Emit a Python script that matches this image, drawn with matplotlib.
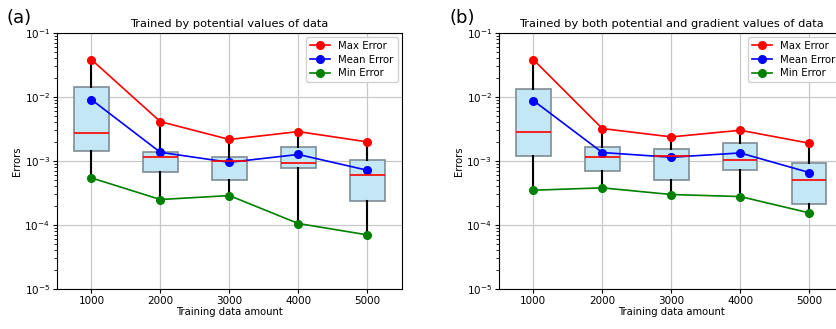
import numpy as np
import matplotlib
matplotlib.use('Agg')
import matplotlib.pyplot as plt

amounts = [1000, 2000, 3000, 4000, 5000]

# (a) potential values only
max_a = [0.0383, 0.0041, 0.00216, 0.00287, 0.00198]
mean_a = [0.00908, 0.00136, 0.00095, 0.00126, 0.000714]
min_a = [0.000542, 0.000249, 0.000287, 0.000105, 0.0000698]
q1_a = [0.00143, 0.000673, 0.00051, 0.000778, 0.000234]
q3_a = [0.01416, 0.00140, 0.00114, 0.00164, 0.00102]
med_a = [0.00277, 0.00113, 0.00101, 0.00093, 0.000597]

# (b) potential + gradient values
max_b = [0.0383, 0.0032, 0.00237, 0.00301, 0.00189]
mean_b = [0.00877, 0.00135, 0.00114, 0.00133, 0.000658]
min_b = [0.000348, 0.000379, 0.000298, 0.000277, 0.000154]
q1_b = [0.00121, 0.000698, 0.000499, 0.000723, 0.00021]
q3_b = [0.0132, 0.00162, 0.00154, 0.00191, 0.00093]
med_b = [0.00287, 0.00115, 0.00118, 0.00102, 0.000505]

panels = [
    ('(a)', 'Trained by potential values of data', max_a, mean_a, min_a, q1_a, q3_a, med_a),
    ('(b)', 'Trained by both potential and gradient values of data', max_b, mean_b, min_b, q1_b, q3_b, med_b),
]

fig = plt.figure(figsize=(8.37, 3.29), dpi=100)
lefts = [0.068, 0.596]
tag_x = [0.008, 0.537]

for k, (tag, title, mx, mn, lo, q1, q3, med) in enumerate(panels):
    ax = fig.add_axes([lefts[k], 0.122, 0.412, 0.778])
    stats = []
    for i in range(len(amounts)):
        stats.append(dict(med=med[i], q1=q1[i], q3=q3[i], whislo=lo[i], whishi=mx[i], fliers=[]))
    ax.bxp(stats, positions=amounts, widths=500, patch_artist=True, showcaps=False,
           boxprops=dict(facecolor='#c3e7f5', edgecolor='#7f8c95', linewidth=1.2),
           whiskerprops=dict(color='black', linewidth=1.5),
           medianprops=dict(color='red', linewidth=1.2), manage_ticks=False)
    ax.plot(amounts, mx, 'o-', color='red', lw=1.2, ms=5.5, label='Max Error')
    ax.plot(amounts, mn, 'o-', color='blue', lw=1.2, ms=5.5, label='Mean Error')
    ax.plot(amounts, lo, 'o-', color='green', lw=1.2, ms=5.5, label='Min Error')
    ax.set_yscale('log')
    ax.set_ylim(1e-5, 1e-1)
    ax.set_xlim(500, 5500)
    ax.set_xticks(amounts)
    ax.grid(True, which='major', color='#c8c8c8', lw=0.9)
    ax.set_axisbelow(True)
    ax.tick_params(labelsize=7.5, length=3, pad=2)
    ax.tick_params(which='minor', length=2)
    ax.set_xlabel('Training data amount', fontsize=7.2, labelpad=1)
    ax.set_ylabel('Errors', fontsize=7.2, labelpad=2)
    ax.set_title(title, fontsize=8.2, pad=4)
    ax.legend(loc='upper right', fontsize=7.3, framealpha=0.9, handlelength=2.0,
              borderaxespad=0.4, labelspacing=0.35)
    fig.text(tag_x[k], 0.93, tag, fontsize=13)

fig.savefig('out.png', dpi=100)
